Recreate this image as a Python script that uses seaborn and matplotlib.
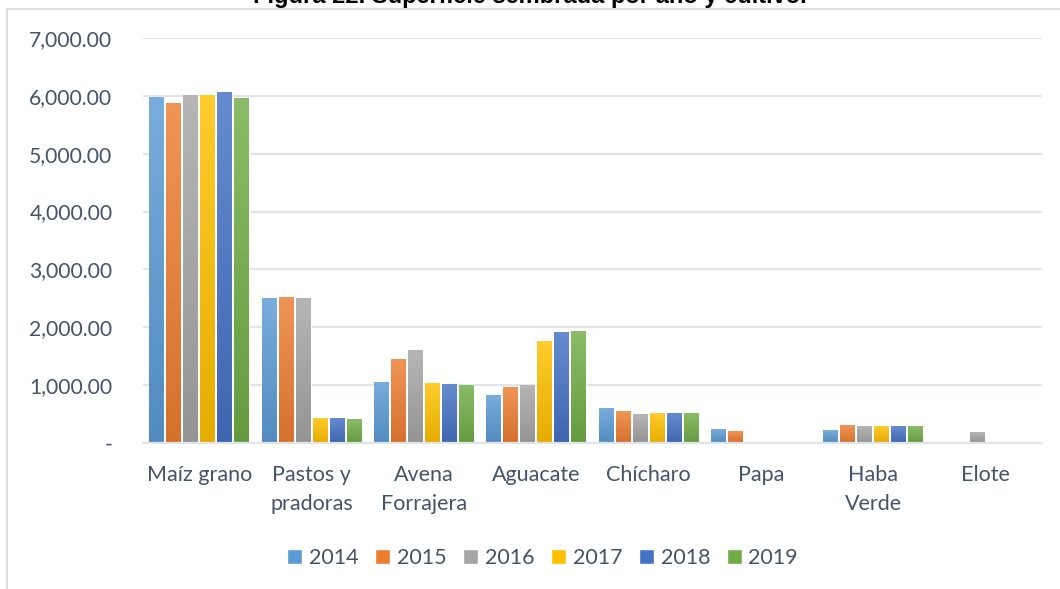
import pandas as pd
import numpy as np
import matplotlib
matplotlib.use("Agg")
import matplotlib.pyplot as plt
import matplotlib.colors as mcolors
import seaborn as sns
from matplotlib.patches import Rectangle
from matplotlib.ticker import FuncFormatter

# Data (hectares per crop and year)
crops = ["Maíz grano", "Pastos y\npradoras", "Avena\nForrajera", "Aguacate",
         "Chícharo", "Papa", "Haba\nVerde", "Elote"]
years = ["2014", "2015", "2016", "2017", "2018", "2019"]

v2014 = [5980, 2500, 1050, 825, 600, 237, 220, None]
v2015 = [5880, 2520, 1450, 965, 548, 202, 306, None]
v2016 = [6015, 2500, 1605, 998, 496, None, 289, 185]
v2017 = [6015, 424, 1033, 1760, 513, None, 289, None]
v2018 = [6067, 424, 1016, 1915, 513, None, 289, None]
v2019 = [5965, 410, 998, 1933, 513, None, 289, None]

palette = ["#5B9BD5", "#ED7D31", "#A5A5A5", "#FFC000", "#4472C4", "#70AD47"]

series = [v2014, v2015, v2016, v2017, v2018, v2019]
rows = []
for year, vals in zip(years, series):
    for crop, v in zip(crops, vals):
        rows.append({"cultivo": crop, "anio": year,
                     "superficie": np.nan if v is None else v})
df = pd.DataFrame(rows)

sns.set_theme(style="white")
plt.rcParams["font.family"] = ["Lato", "DejaVu Sans"]
txt_color = "#44546A"

fig = plt.figure(figsize=(10.6, 5.89), dpi=100)
ax = fig.add_axes([0.1349, 0.2484, 0.983 - 0.1349, 0.9353 - 0.2484])

sns.barplot(data=df, x="cultivo", y="superficie", hue="anio", order=crops,
            hue_order=years, palette=palette, width=0.907, gap=0.12,
            saturation=1, errorbar=None, ax=ax)

ax.set_ylim(0, 7000)
ax.set_xlim(-0.5, len(crops) - 0.5)


# Office-style vertical gradient on every bar: lighter top, darker bottom
def shade(c, f):
    c = np.array(mcolors.to_rgb(c))
    return c + (1 - c) * f if f > 0 else c * (1 + f)


for bar in list(ax.patches):
    h = bar.get_height()
    if not np.isfinite(h) or h <= 0:
        continue
    base = bar.get_facecolor()
    top, bot = shade(base, 0.18), shade(base, -0.1)
    grad = np.linspace(0, 1, 64)[:, None]
    img = top[None, None, :] * (1 - grad[..., None]) + bot[None, None, :] * grad[..., None]
    x0 = bar.get_x()
    im = ax.imshow(img, extent=[x0, x0 + bar.get_width(), 0, h], origin="upper",
                   aspect="auto", zorder=bar.get_zorder() + 0.1, interpolation="bilinear")
    im.set_clip_path(bar)

ax.set_ylim(0, 7000)
ax.set_xlim(-0.5, len(crops) - 0.5)
ax.set_yticks(range(0, 7001, 1000))
ax.yaxis.set_major_formatter(FuncFormatter(lambda v, p: "-" if v == 0 else f"{v:,.2f}"))
ax.grid(axis="y", color="#E1E5EA", linewidth=1.6)
ax.set_axisbelow(True)
for s in ["top", "right", "left"]:
    ax.spines[s].set_visible(False)
ax.spines["bottom"].set_color("#E1E5EA")
ax.spines["bottom"].set_linewidth(1.6)

ax.set_xlabel("")
ax.set_ylabel("")
ax.tick_params(axis="y", length=0, pad=22, labelsize=15.2, labelcolor=txt_color)
ax.tick_params(axis="x", length=0, pad=16, labelsize=15.5, labelcolor=txt_color)
for lbl in ax.get_xticklabels():
    lbl.set_linespacing(1.56)
    lbl.set_verticalalignment("top")

sns.move_legend(ax, "center", bbox_to_anchor=(0.512, 0.052),
                bbox_transform=fig.transFigure, ncol=6, frameon=False,
                title=None, fontsize=15.5, handlelength=0.7, handleheight=0.7,
                handletextpad=0.3, columnspacing=0.78)
for t in ax.get_legend().get_texts():
    t.set_color(txt_color)

# chart-area border and clipped title, as in the source
fig.patches.append(Rectangle((7 / 1060, -0.1), 1.2, 1 - 9 / 589 + 0.1,
                             transform=fig.transFigure, fill=False,
                             edgecolor="#D9D9D9", linewidth=1.2))
fig.text(0.5, 1 - 3.5 / 589, "Figura 22. Superficie sembrada por año y cultivo.",
         ha="center", va="baseline", fontsize=17, fontweight="bold",
         family=["Liberation Sans", "DejaVu Sans"], color="black")

fig.savefig("out.png", dpi=100)
